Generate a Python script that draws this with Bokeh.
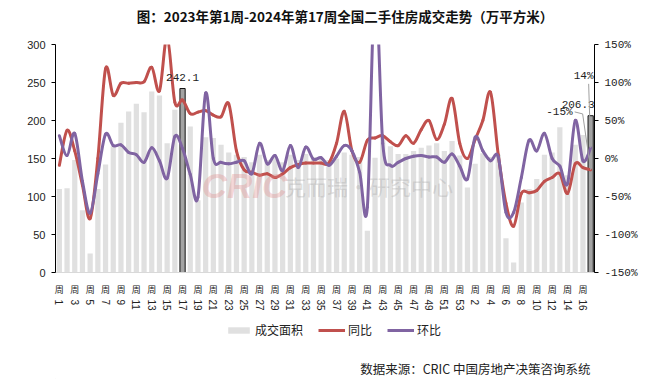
import math
import numpy as np
from bokeh.plotting import figure
from bokeh.layouts import column
from bokeh.models import (Range1d, LinearAxis, FixedTicker, Legend, LegendItem,
                          ColumnDataSource, Label)
from bokeh.core.properties import value
from bokeh.embed import file_html
from bokeh.resources import INLINE

# ---------------- data ----------------
week_labels = [str(w) for w in range(1, 54)] + [str(w) for w in range(1, 18)]

area = [110, 111, 148, 82, 25, 110, 142, 166, 197, 212,
        222, 211, 238, 233, 170, 214, 242.1, 192, 95, 178,
        177, 168, 158, 155, 152, 145, 155, 148, 152, 145,
        155, 148, 156, 152, 150, 148, 150, 158, 155, 152,
        55, 151, 180, 166, 156, 156, 160, 164, 167, 170,
        160, 173, 154, 112, 143, 157, 152, 155, 45, 13,
        92, 110, 123, 155, 158, 191, 128, 168, 181, 206.3]

yoy = [-9, 37, 10, -35, -79, 0, 118, 83, 99, 99,
       100, 101, 120, 89, 160, 74, 77, 59, 61, 63,
       57, 55, 72, 10, -15, -18, -22, -20, -25, -20,
       -12, -8, -6, -6, -6, -6, 20, 62, 10, -5,
       24, 27, 30, 22, 17, 30, 20, 38, 50, 25,
       45, 79, 20, 0, 25, 50, 87, 5, -59, -89,
       -46, -45, -42, -30, -25, -20, -46, -7, -12, -15]

mom = [30, 4, 33, -30, -72, -20, 32, 17, 18, 8,
       5, -5, 14, -3, -26, 29, 13, -21, -51, 86,
       0, -5, -7, -5, -3, -20, 20, -7, 4, -16,
       17, -12, 15, -1, 1, -9, 3, 17, 10, -18,
       -64, 230, 20, -9, -5, 0, 3, 4, 2, 2,
       -5, 6, -10, -27, 28, 10, -3, 2, -71, -71,
       -25, 24, 10, 33, 0, -10, -33, 50, -3, 14]

highlight = [16, 69]

title_text = "图：2023年第1周-2024年第17周全国二手住房成交走势（万平方米）"
source_text = "数据来源：CRIC 中国房地产决策咨询系统"

# ---------------- layout ----------------
n = len(area)
xs = list(range(n))
W = 641
HH, H1, H2 = 36, 282, 61          # header, main, footer heights
BL, BR, BT, BB = 47, 55, 8, 46
FW, FH = W - BL - BR, H1 - BT - BB
px_x = n / FW          # x units per pixel
px_pct = 300.0 / FH    # pct units per pixel

CJK = "Noto Sans CJK SC"
MONO = "Liberation Mono"
TXT = "#222222"


def strip_fig(h):
    f = figure(width=W, height=h, output_backend="svg", toolbar_location=None,
               x_range=Range1d(0, FW), y_range=Range1d(0, h),
               x_axis_type=None, y_axis_type=None,
               min_border_left=BL, min_border_right=BR,
               min_border_top=0, min_border_bottom=0)
    f.outline_line_color = None
    f.background_fill_color = "white"
    return f


# ---------------- header: title ----------------
hdr = strip_fig(HH)
hdr.text(x=[FW / 2 + 20], y=[HH - 15], text=[title_text], text_align="center",
         text_baseline="middle", text_font=value(CJK), text_font_size="13.5px",
         text_font_style="bold", text_color="#111111")

# ---------------- main chart ----------------
p = figure(width=W, height=H1, output_backend="svg", toolbar_location=None,
           x_range=Range1d(-0.5, n - 0.5), y_range=Range1d(0, 300),
           x_axis_type=None, y_axis_type=None,
           min_border_left=BL, min_border_right=BR,
           min_border_top=BT, min_border_bottom=BB)
p.extra_y_ranges = {"pct": Range1d(-150, 150)}
p.outline_line_color = None
p.background_fill_color = "white"

# left axis
ly = LinearAxis(ticker=FixedTicker(ticks=[0, 50, 100, 150, 200, 250, 300]))
ly.axis_line_color = "black"
ly.major_tick_out = 4
ly.major_tick_in = 0
ly.minor_tick_line_color = None
ly.major_label_text_font = "Liberation Sans"
ly.major_label_text_font_size = "11px"
ly.major_label_text_color = TXT
ly.major_label_standoff = 6
p.add_layout(ly, "left")

# right axis
pct_ticks = [-150, -100, -50, 0, 50, 100, 150]
ry = LinearAxis(y_range_name="pct", ticker=FixedTicker(ticks=pct_ticks),
                major_label_overrides={t: f"{t}%" for t in pct_ticks})
ry.axis_line_color = "black"
ry.major_tick_out = 4
ry.major_tick_in = 0
ry.minor_tick_line_color = None
ry.major_label_text_font = MONO
ry.major_label_text_font_size = "11px"
ry.major_label_text_color = TXT
ry.major_label_standoff = 6
p.add_layout(ry, "right")

# bottom axes
tick_idx = list(range(0, n, 2))
bx1 = LinearAxis(ticker=FixedTicker(ticks=tick_idx),
                 major_label_overrides={i: "周" for i in tick_idx})
bx1.axis_line_color = "#D9D9D9"
bx1.major_tick_line_color = None
bx1.minor_tick_line_color = None
bx1.major_label_text_font = CJK
bx1.major_label_text_font_size = "9px"
bx1.major_label_text_color = TXT
bx1.major_label_standoff = 4
p.add_layout(bx1, "below")

bx2 = LinearAxis(ticker=FixedTicker(ticks=tick_idx),
                 major_label_overrides={i: week_labels[i] for i in tick_idx})
bx2.axis_line_color = None
bx2.major_tick_line_color = None
bx2.minor_tick_line_color = None
bx2.major_label_orientation = -math.pi / 2
bx2.major_label_text_font = "Liberation Sans"
bx2.major_label_text_font_size = "10px"
bx2.major_label_text_color = TXT
bx2.major_label_standoff = -5
p.add_layout(bx2, "below")

# watermark
p.add_layout(Label(x=18.5, y=114, text="CRIC", text_font="Liberation Sans",
                   text_font_size="35px", text_font_style="bold italic",
                   text_color="#E08C8C", text_alpha=0.35, text_baseline="middle"))
p.add_layout(Label(x=29.3, y=114, text="克而瑞·研究中心", text_font=CJK,
                   text_font_size="21px", text_color="#9A9A9A", text_alpha=0.3,
                   text_baseline="middle"))

# bars
BAR_FILL = "#E0E0E0"
norm = [i for i in xs if i not in highlight]
src_n = ColumnDataSource(dict(x=norm, top=[area[i] for i in norm]))
src_h = ColumnDataSource(dict(x=highlight, top=[area[i] for i in highlight]))
p.vbar(x="x", top="top", width=0.68, source=src_n, fill_color=BAR_FILL, line_color=None)
p.vbar(x="x", top="top", width=0.68, source=src_h,
       fill_color="#A3A3A3", line_color="#111111", line_width=1)


# smooth lines (Catmull-Rom through the data points, drawn as Bezier pieces)
def bez(ys):
    d = dict(x0=[], y0=[], x1=[], y1=[], cx0=[], cy0=[], cx1=[], cy1=[])
    m = len(ys)
    for i in range(m - 1):
        a, b = max(i - 1, 0), min(i + 2, m - 1)
        d["x0"].append(i); d["y0"].append(ys[i])
        d["x1"].append(i + 1); d["y1"].append(ys[i + 1])
        d["cx0"].append(i + (i + 1 - a) / 6.0)
        d["cy0"].append(ys[i] + (ys[i + 1] - ys[a]) / 6.0)
        d["cx1"].append(i + 1 - (b - i) / 6.0)
        d["cy1"].append(ys[i + 1] - (ys[b] - ys[i]) / 6.0)
    return ColumnDataSource(d)


RED = "#C0504D"
PURPLE = "#8064A2"
p.bezier(x0="x0", y0="y0", x1="x1", y1="y1", cx0="cx0", cy0="cy0", cx1="cx1", cy1="cy1",
         source=bez(yoy), line_color=RED, line_width=3, line_cap="round", y_range_name="pct")
p.bezier(x0="x0", y0="y0", x1="x1", y1="y1", cx0="cx0", cy0="cy0", cx1="cx1", cy1="cy1",
         source=bez(mom), line_color=PURPLE, line_width=3, line_cap="round", y_range_name="pct")

# bar value labels
p.text(x=[highlight[0]], y=[area[highlight[0]]], text=[f"{area[highlight[0]]:.1f}"],
       text_align="center", text_baseline="bottom", y_offset=-8,
       text_font=value(MONO), text_font_size="11px", text_color=TXT)
p.text(x=[highlight[1]], y=[area[highlight[1]]], text=[f"{area[highlight[1]]:.1f}"],
       text_align="right", text_baseline="bottom", x_offset=4, y_offset=-8,
       text_font=value(MONO), text_font_size="11px", text_color=TXT)

# last-point labels with leader lines
last = n - 1
mx, my = last, mom[last]
p.line(x=[mx, mx - 2 * px_x], y=[my, my + 64 * px_pct], line_color="#A0A0A0",
       line_width=1, y_range_name="pct")
p.text(x=[mx], y=[my], text=[f"{mom[last]:.0f}%"], x_offset=-7, y_offset=-72,
       text_align="center", text_baseline="middle", y_range_name="pct",
       text_font=value(MONO), text_font_size="11px", text_color=TXT)

rx, ryv = last, yoy[last]
p.line(x=[rx, rx - 8 * px_x, rx - 16 * px_x],
       y=[ryv, ryv + 56 * px_pct, ryv + 58 * px_pct],
       line_color="#A0A0A0", line_width=1, y_range_name="pct")
p.text(x=[rx], y=[ryv], text=[f"{yoy[last]:.0f}%"], x_offset=-18, y_offset=-58,
       text_align="right", text_baseline="middle", y_range_name="pct",
       text_font=value(MONO), text_font_size="11px", text_color=TXT)

# ---------------- footer: legend + source ----------------
f = strip_fig(H2)
lg_bar = f.vbar(x=[-100], top=[1], width=1, fill_color=BAR_FILL, line_color=None)
lg_red = f.line(x=[-100, -90], y=[1, 1], line_color=RED, line_width=3)
lg_pur = f.line(x=[-100, -90], y=[1, 1], line_color=PURPLE, line_width=3)
legend = Legend(items=[LegendItem(label="成交面积", renderers=[lg_bar]),
                       LegendItem(label="同比", renderers=[lg_red]),
                       LegendItem(label="环比", renderers=[lg_pur])],
                orientation="horizontal", location=(170, 41),
                border_line_color=None, background_fill_alpha=0,
                glyph_width=27, glyph_height=8, label_standoff=3, spacing=15,
                padding=0, margin=0,
                label_text_font=CJK, label_text_font_size="12px",
                label_text_color=TXT)
f.add_layout(legend)
f.text(x=[535], y=[11], text=[source_text], text_align="right", text_baseline="middle",
       text_font=value(CJK), text_font_size="12.5px", text_color=TXT)

layout = column(hdr, p, f, spacing=0, margin=(0, 0, 0, 8))
open("out.html", "w").write(file_html(layout, INLINE))
